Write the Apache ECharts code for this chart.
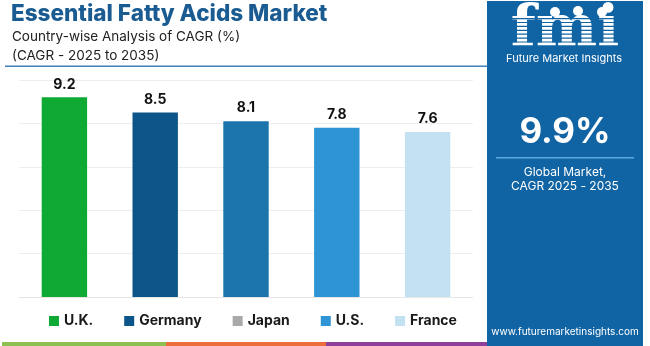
<!DOCTYPE html>
<html>
<head>
<meta charset="utf-8">
<script src="https://cdn.jsdelivr.net/npm/echarts@6/dist/echarts.min.js"></script>
<style>
  html, body { margin: 0; padding: 0; background: #ffffff; }
  #chart { width: 650px; height: 346px; }
</style>
</head>
<body>
<div id="chart"></div>
<script>
// Country-wise CAGR figures, 2025 to 2035
const countries = ['U.K.', 'Germany', 'Japan', 'U.S.', 'France'];
const cagrValues = [9.2, 8.5, 8.1, 7.8, 7.6];
const barColors = ['#0eaa33', '#0b5589', '#1b74ab', '#2f94d3', '#c3e1f1'];
const legendColors = ['#0eaa33', '#0b5589', '#a9a9a9', '#2f94d3', '#c3e1f1'];
const globalCagr = '9.9%';

const FONT = 'Inter, "Open Sans", Roboto, sans-serif';

// One series per country so each gets its own legend entry; stacking keeps bars centred.
const series = countries.map((name, i) => ({
  name: name,
  type: 'bar',
  stack: 'cagr',
  barWidth: '50%',
  itemStyle: { color: barColors[i] },
  label: {
    show: true,
    position: 'top',
    distance: 6,
    color: '#111',
    fontFamily: FONT,
    fontWeight: 'bold',
    fontSize: 14,
    formatter: p => p.value.toFixed(1)
  },
  data: countries.map((_, j) => (j === i ? cagrValues[i] : '-'))
}));

// Horizontal stripes laid over the logo letters
const stripes = [];
for (let k = 0; k < 10; k++) {
  stripes.push({
    type: 'rect',
    shape: { x: 505, y: 18 + k * 3.9, width: 120, height: 1.2 },
    style: { fill: '#1164a3' },
    z: 12
  });
}

const chart = echarts.init(document.getElementById('chart'));
chart.setOption({
  animation: false,
  backgroundColor: '#ffffff',
  grid: { left: 19, right: 177, top: 80, bottom: 49 },
  xAxis: {
    type: 'category',
    data: countries,
    axisLine: { show: true, lineStyle: { color: '#e6e6e6' } },
    axisTick: { show: false },
    axisLabel: { show: false }
  },
  yAxis: {
    type: 'value',
    min: 0,
    max: 10,
    interval: 2,
    axisLabel: { show: false },
    axisLine: { show: false },
    axisTick: { show: false },
    splitLine: { lineStyle: { color: '#eeeeee', width: 1 } }
  },
  legend: {
    selectedMode: false,
    left: 44,
    top: 309,
    itemWidth: 10,
    itemHeight: 10,
    itemGap: 31,
    icon: 'rect',
    textStyle: { fontFamily: FONT, fontWeight: 'bold', fontSize: 14, color: '#1a1a1a' },
    data: countries.map((name, i) => ({ name: name, itemStyle: { color: legendColors[i] } }))
  },
  series: series,
  graphic: [
    // heading
    {
      type: 'text', left: 11, top: 3,
      style: { text: 'Essential Fatty Acids Market', fill: '#1a5c92', font: '800 22.5px ' + FONT }
    },
    {
      type: 'text', left: 12, top: 30,
      style: { text: 'Country-wise Analysis of CAGR (%)', fill: '#222', font: '13.5px ' + FONT }
    },
    {
      type: 'text', left: 12, top: 49,
      style: { text: '(CAGR - 2025 to 2035)', fill: '#222', font: '13.5px ' + FONT }
    },
    {
      type: 'rect', shape: { x: 5, y: 65.5, width: 482, height: 1.5 },
      style: { fill: '#3d82bb' }
    },
    // bottom colour strip
    { type: 'rect', shape: { x: 2, y: 342, width: 164, height: 4 }, style: { fill: '#8cc152' } },
    { type: 'rect', shape: { x: 166, y: 342, width: 160, height: 4 }, style: { fill: '#ec6c3c' } },
    { type: 'rect', shape: { x: 326, y: 342, width: 161, height: 4 }, style: { fill: '#8e3f9c' } },
    // side panel
    {
      type: 'rect', shape: { x: 487, y: 1, width: 156, height: 345 },
      style: { fill: '#1164a3' }, z: 10
    },
    {
      type: 'text', x: 565, y: 2, z: 11,
      style: {
        text: 'fmi', fill: '#ffffff', align: 'center',
        font: 'bold 58px "DejaVu Serif", serif'
      }
    },
    ...stripes,
    { type: 'circle', shape: { cx: 555, cy: 12, r: 5 }, style: { fill: '#ffffff' }, z: 13 },
    { type: 'circle', shape: { cx: 578, cy: 11, r: 5 }, style: { fill: '#ffffff' }, z: 13 },
    { type: 'circle', shape: { cx: 602, cy: 12, r: 5 }, style: { fill: '#ffffff' }, z: 13 },
    {
      type: 'text', x: 564, y: 53, z: 11,
      style: { text: 'Future Market Insights', fill: '#ffffff', align: 'center', font: '11px ' + FONT }
    },
    {
      type: 'text', x: 565, y: 115, z: 11,
      style: { text: globalCagr, fill: '#ffffff', align: 'center', font: 'bold 35px ' + FONT }
    },
    {
      type: 'rect', shape: { x: 496, y: 157, width: 138, height: 1.5 },
      style: { fill: '#5aa8e0' }, z: 11
    },
    {
      type: 'text', x: 565, y: 166, z: 11,
      style: { text: 'Global Market,', fill: '#ffffff', align: 'center', font: '12px ' + FONT }
    },
    {
      type: 'text', x: 565, y: 180, z: 11,
      style: { text: 'CAGR 2025 - 2035', fill: '#ffffff', align: 'center', font: '12px ' + FONT }
    },
    {
      type: 'text', x: 565, y: 327, z: 11,
      style: { text: 'www.futuremarketinsights.com', fill: '#ffffff', align: 'center', font: '10px ' + FONT }
    }
  ]
});
</script>
</body>
</html>
